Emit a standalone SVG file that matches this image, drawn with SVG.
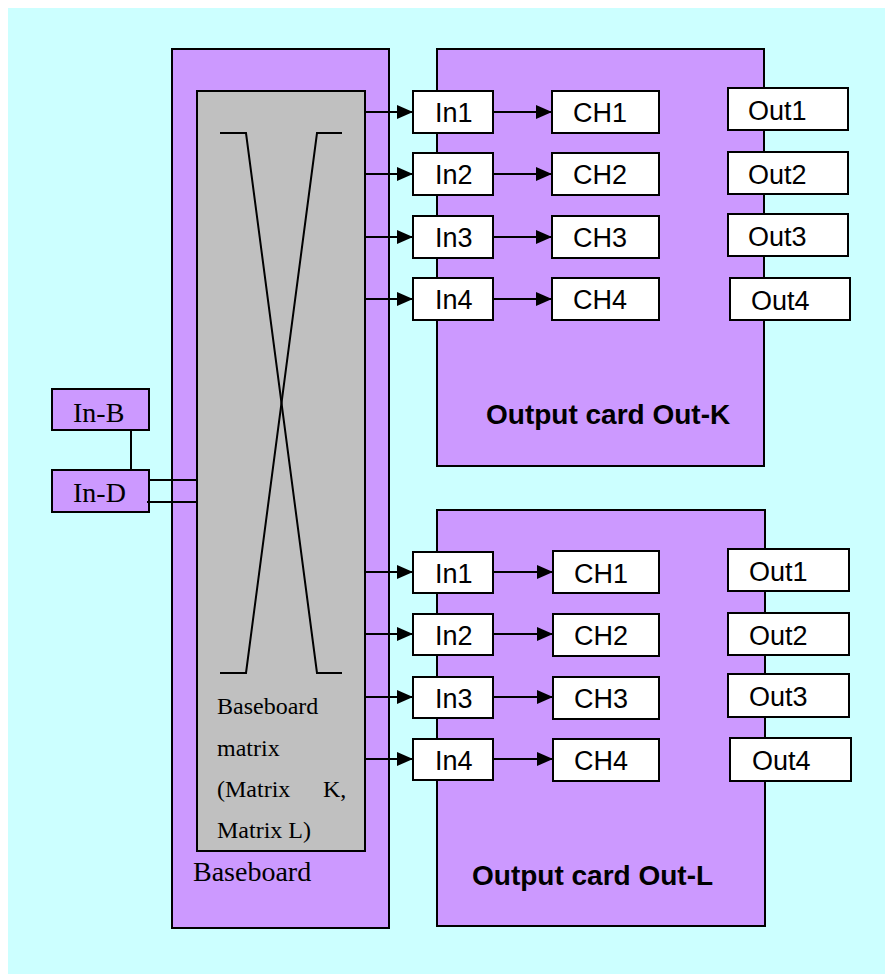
<svg xmlns="http://www.w3.org/2000/svg" width="885" height="974" viewBox="0 0 885 974">
<defs>
<style>
.bg{fill:#CCFFFF}
.card{fill:#CC99FF;stroke:#000;stroke-width:2}
.grey{fill:#C0C0C0;stroke:#000;stroke-width:2}
.box{fill:#FFFFFF;stroke:#000;stroke-width:2}
.ln{fill:none;stroke:#000;stroke-width:2}
.arr{fill:none;stroke:#000;stroke-width:2;marker-end:url(#ah)}
.s{font-family:"Liberation Sans",Arial,sans-serif;font-size:27px;fill:#000}
.b{font-family:"Liberation Sans",Arial,sans-serif;font-size:28px;font-weight:bold;fill:#000}
.t{font-family:"Liberation Serif","Times New Roman",serif;font-size:28px;fill:#000}
.t2{font-family:"Liberation Serif","Times New Roman",serif;font-size:24px;fill:#000}
</style>
<marker id="ah" viewBox="0 0 16 14" refX="16" refY="7" markerWidth="16" markerHeight="14" markerUnits="userSpaceOnUse" orient="auto">
<path d="M0,0 L16,7 L0,14 Z" fill="#000"/>
</marker>
</defs>
<rect class="bg" x="8" y="8" width="877" height="966"/>

<g id="baseboard">
<rect class="card" x="172" y="49" width="217" height="879"/>
<text class="t" x="193" y="881">Baseboard</text>
</g>
<g id="matrix">
<rect class="grey" x="197" y="91" width="168" height="760"/>
<path class="ln" d="M220,133 H246 L317,673 H342"/>
<path class="ln" d="M342,133 H317 L246,673 H220"/>
<text class="t2" x="217" y="714">Baseboard</text>
<text class="t2" x="217" y="756">matrix</text>
<text class="t2" x="217" y="797">(Matrix</text>
<text class="t2" x="323" y="797">K,</text>
<text class="t2" x="217" y="838">Matrix L)</text>
</g>

<g id="in-b">
<rect class="card" x="52" y="389" width="97" height="41"/>
<text class="t" x="73" y="422">In-B</text>
</g>
<g id="in-d">
<rect class="card" x="52" y="470" width="97" height="42"/>
<text class="t" x="73" y="502">In-D</text>
</g>

<g id="card-k">
<rect class="card" x="437" y="49" width="327" height="417"/>
<text class="b" x="486" y="424">Output card Out-K</text>
</g>
<g id="card-l">
<rect class="card" x="437" y="510" width="328" height="416"/>
<text class="b" x="472" y="885">Output card Out-L</text>
</g>

<g id="k-in1"><rect class="box" x="413" y="91" width="80" height="42"/><text class="s" x="435" y="122">In1</text></g>
<g id="k-in2"><rect class="box" x="413" y="153" width="80" height="42"/><text class="s" x="435" y="184">In2</text></g>
<g id="k-in3"><rect class="box" x="413" y="216" width="80" height="42"/><text class="s" x="435" y="247">In3</text></g>
<g id="k-in4"><rect class="box" x="413" y="278" width="80" height="42"/><text class="s" x="435" y="309">In4</text></g>
<g id="k-ch1"><rect class="box" x="552" y="91" width="107" height="42"/><text class="s" x="573" y="122">CH1</text></g>
<g id="k-ch2"><rect class="box" x="552" y="153" width="107" height="42"/><text class="s" x="573" y="184">CH2</text></g>
<g id="k-ch3"><rect class="box" x="552" y="216" width="107" height="42"/><text class="s" x="573" y="247">CH3</text></g>
<g id="k-ch4"><rect class="box" x="552" y="278" width="107" height="42"/><text class="s" x="573" y="309">CH4</text></g>
<g id="k-out1"><rect class="box" x="728" y="88" width="120" height="42"/><text class="s" x="748" y="120">Out1</text></g>
<g id="k-out2"><rect class="box" x="728" y="152" width="120" height="42"/><text class="s" x="748" y="184">Out2</text></g>
<g id="k-out3"><rect class="box" x="728" y="214" width="120" height="42"/><text class="s" x="748" y="246">Out3</text></g>
<g id="k-out4"><rect class="box" x="730" y="278" width="120" height="42"/><text class="s" x="751" y="310">Out4</text></g>

<g id="l-in1"><rect class="box" x="413" y="552" width="80" height="41"/><text class="s" x="435" y="583">In1</text></g>
<g id="l-in2"><rect class="box" x="413" y="614" width="80" height="41"/><text class="s" x="435" y="645">In2</text></g>
<g id="l-in3"><rect class="box" x="413" y="677" width="80" height="41"/><text class="s" x="435" y="708">In3</text></g>
<g id="l-in4"><rect class="box" x="413" y="739" width="80" height="41"/><text class="s" x="435" y="770">In4</text></g>
<g id="l-ch1"><rect class="box" x="553" y="551" width="106" height="42"/><text class="s" x="574" y="583">CH1</text></g>
<g id="l-ch2"><rect class="box" x="553" y="614" width="106" height="42"/><text class="s" x="574" y="645">CH2</text></g>
<g id="l-ch3"><rect class="box" x="553" y="677" width="106" height="42"/><text class="s" x="574" y="708">CH3</text></g>
<g id="l-ch4"><rect class="box" x="553" y="739" width="106" height="42"/><text class="s" x="574" y="770">CH4</text></g>
<g id="l-out1"><rect class="box" x="728" y="549" width="121" height="42"/><text class="s" x="749" y="581">Out1</text></g>
<g id="l-out2"><rect class="box" x="728" y="613" width="121" height="42"/><text class="s" x="749" y="645">Out2</text></g>
<g id="l-out3"><rect class="box" x="728" y="674" width="121" height="43"/><text class="s" x="749" y="706">Out3</text></g>
<g id="l-out4"><rect class="box" x="730" y="738" width="121" height="43"/><text class="s" x="752" y="770">Out4</text></g>

<g id="connectors">
<path class="ln" d="M131,430 V470"/>
<path class="ln" d="M149,480 H197"/>
<path class="ln" d="M147,502 H197"/>
<path class="arr" d="M365,112 H413"/>
<path class="arr" d="M365,174 H413"/>
<path class="arr" d="M365,237 H413"/>
<path class="arr" d="M365,299 H413"/>
<path class="arr" d="M365,572 H413"/>
<path class="arr" d="M365,634 H413"/>
<path class="arr" d="M365,697 H413"/>
<path class="arr" d="M365,759 H413"/>
<path class="arr" d="M493,112 H552"/>
<path class="arr" d="M493,174 H552"/>
<path class="arr" d="M493,237 H552"/>
<path class="arr" d="M493,299 H552"/>
<path class="arr" d="M493,572 H553"/>
<path class="arr" d="M493,634 H553"/>
<path class="arr" d="M493,697 H553"/>
<path class="arr" d="M493,759 H553"/>
</g>
</svg>
